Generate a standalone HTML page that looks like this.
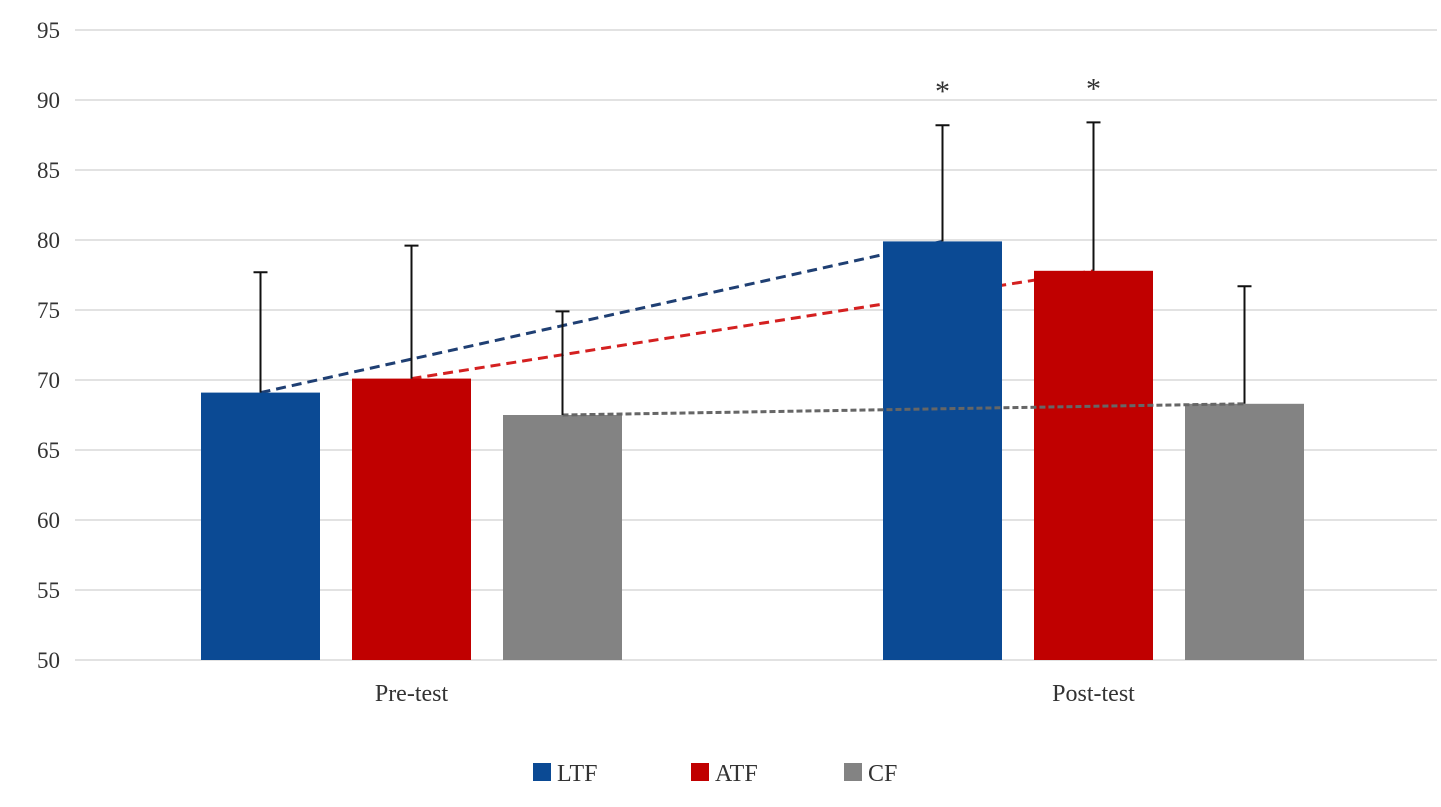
<!DOCTYPE html>
<html><head><meta charset="utf-8"><style>
body{margin:0;background:#fff}
svg text{font-family:"Liberation Serif",serif;fill:#333}
</style></head><body>
<svg width="1441" height="802">
<g id="grid"></g><g id="trend-under"></g><g id="bars"></g><g id="trend-over"></g><g id="errs"></g><g id="labels"></g>
<g>
<rect x="533" y="763" width="18" height="18" fill="#0b4a94"/>
<text x="557" y="781" font-size="24">LTF</text>
<rect x="691" y="763" width="18" height="18" fill="#c00000"/>
<text x="715" y="781" font-size="24">ATF</text>
<rect x="844" y="763" width="18" height="18" fill="#838383"/>
<text x="868" y="781" font-size="24">CF</text>
</g>
</svg>
<script>
const categories=["Pre-test","Post-test"];
const series=["LTF","ATF","CF"];
const ltfValues=[69.1,79.9];
const atfValues=[70.1,77.8];
const cfValues=[67.5,68.3];
const ltfErr=[8.6,8.3];
const atfErr=[9.5,10.6];
const cfErr=[7.4,8.4];
const yTicks=[50,55,60,65,70,75,80,85,90,95];
const signif=[[false,true],[false,true],[false,false]];
const colors=["#0b4a94","#c00000","#838383"];
const vals=[ltfValues,atfValues,cfValues], errs=[ltfErr,atfErr,cfErr];
const NS="http://www.w3.org/2000/svg";
const y=v=>660-(v-50)*14;
const groupX=[201,883], barW=119, step=151;
const bx=(c,s)=>groupX[c]+s*step;
function mk(t,a,p){const e=document.createElementNS(NS,t);for(const k in a)e.setAttribute(k,a[k]);document.getElementById(p).appendChild(e);return e;}
yTicks.forEach(t=>{
 const l=mk("line",{x1:75,x2:1437,y1:y(t),y2:y(t),stroke:"#d9d9d9","stroke-width":1.5},"grid");
 
 
 const tx=mk("text",{x:60,y:y(t)+8,"font-size":23,"text-anchor":"end"},"grid");tx.textContent=t;
 
 
});
series.forEach((s,si)=>{
 const v=vals[si];
 const x1=bx(0,si)+barW/2,x2=bx(1,si)+barW/2;
 const tl=mk("line",{x1:x1,y1:y(v[0]),x2:x2,y2:y(v[1]),stroke:si==2?"#666":colors[si]==="#0b4a94"?"#1f3f73":"#d42020","stroke-width":3,"stroke-dasharray":si==2?"6,3":"10,6"},si==2?"trend-over":"trend-under");
 
 
 categories.forEach((c,ci)=>{
  const x=bx(ci,si),cx=x+barW/2;
  const r=mk("rect",{x:x,y:y(v[ci]),width:barW,height:660-y(v[ci]),fill:colors[si]},"bars");
  
  
  const top=y(v[ci]+errs[si][ci]);
  const e=mk("path",{d:`M${cx},${y(v[ci])}V${top}M${cx-7},${top}H${cx+7}`,stroke:"#111","stroke-width":2,fill:"none"},"errs");
  
  
  if(signif[si][ci]){const a=mk("text",{x:cx,y:top-24,"font-size":30,"text-anchor":"middle"},"labels");a.textContent="*";
   
   }
 });
});
categories.forEach((c,ci)=>{
 const t=mk("text",{x:bx(ci,1)+barW/2,y:701,"font-size":24,"text-anchor":"middle"},"labels");t.textContent=c;
 
 
});
</script>
</body></html>
